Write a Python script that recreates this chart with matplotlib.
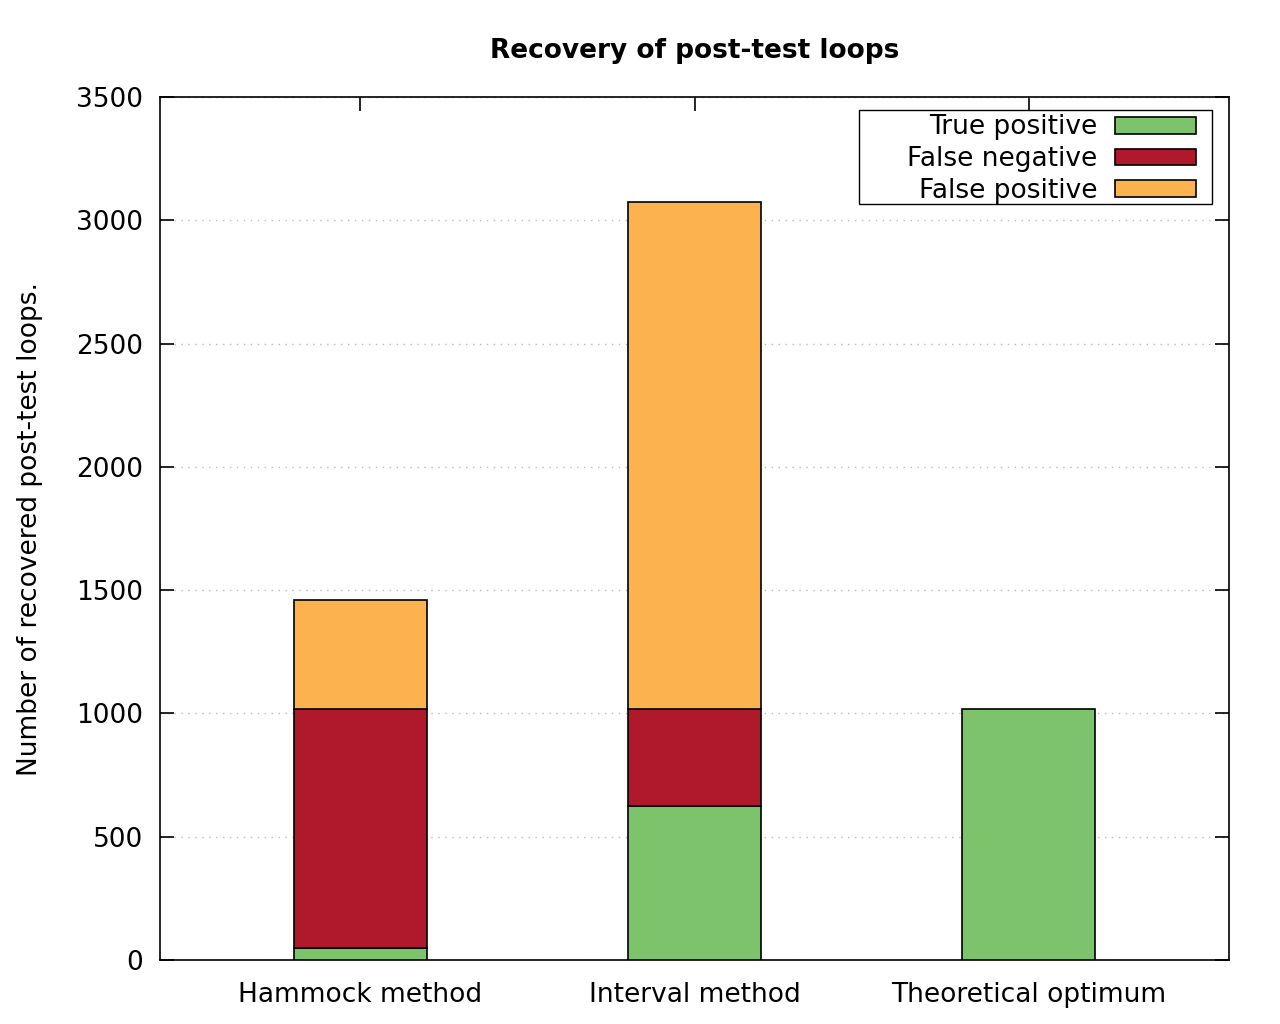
import matplotlib
matplotlib.use("Agg")
import matplotlib.pyplot as plt
from matplotlib.patches import Rectangle
import numpy as np

categories = ["Hammock method", "Interval method", "Theoretical optimum"]
true_positive = [47, 624, 1019]
false_negative = [972, 395, 0]
false_positive = [439, 2054, 0]
yticks = [0, 500, 1000, 1500, 2000, 2500, 3000, 3500]

c_tp = "#7cc36b"
c_fn = "#b0182c"
c_fp = "#fcb24e"

plt.rcParams['font.family'] = ['DejaVu Sans']
fig = plt.figure(figsize=(12.8, 10.24), dpi=100)
ax = fig.add_axes([160/1280, 1 - 960/1024, (1229-160)/1280, (960-97)/1024])

x = np.arange(len(categories))
w = 0.4
tp = np.array(true_positive)
fn = np.array(false_negative)
fp = np.array(false_positive)
kw = dict(width=w, edgecolor="black", linewidth=1.2, zorder=3)
ax.bar(x, tp, color=c_tp, label="True positive", **kw)
mask = fn > 0
ax.bar(x[mask], fn[mask], bottom=tp[mask], color=c_fn, label="False negative", **kw)
mask2 = fp > 0
ax.bar(x[mask2], fp[mask2], bottom=(tp + fn)[mask2], color=c_fp, label="False positive", **kw)

ax.set_xlim(-0.6, 2.6)
ax.set_ylim(0, 3500)
ax.set_yticks(yticks)
ax.set_xticks(x)
ax.set_xticklabels(categories)
ax.tick_params(axis="both", direction="in", length=10, width=1.2, labelsize=19,
               top=True, right=True)
ax.tick_params(axis="y", pad=12)
ax.tick_params(axis="x", pad=16)
ax.yaxis.grid(True, linestyle=(0, (1, 4)), color="#bbbbbb", linewidth=1, zorder=0)
for s in ax.spines.values():
    s.set_linewidth(1.2)

ax.set_title("Recovery of post-test loops", fontsize=19, fontweight="bold", pad=28)
ax.set_ylabel("Number of recovered post-test loops.", fontsize=19, labelpad=24)

# legend frame (gnuplot-style box with wide left padding)
frame = Rectangle((859/1280, 1 - 204/1024), 353/1280, 94/1024, transform=fig.transFigure,
                  facecolor="white", edgecolor="black", linewidth=1.0, zorder=4,
                  clip_on=False)
ax.add_patch(frame)

leg = ax.legend(loc="upper right",
                fontsize=19, markerfirst=False, frameon=False,
                handlelength=3.07, handleheight=0.6,
                borderpad=0.0, labelspacing=0.22, handletextpad=0.68, borderaxespad=0.0)
leg.set_zorder(6)
leg.set_bbox_to_anchor((1196/1280, 1 - 114.5/1024), transform=fig.transFigure)

fig.savefig("out.png", dpi=100)
